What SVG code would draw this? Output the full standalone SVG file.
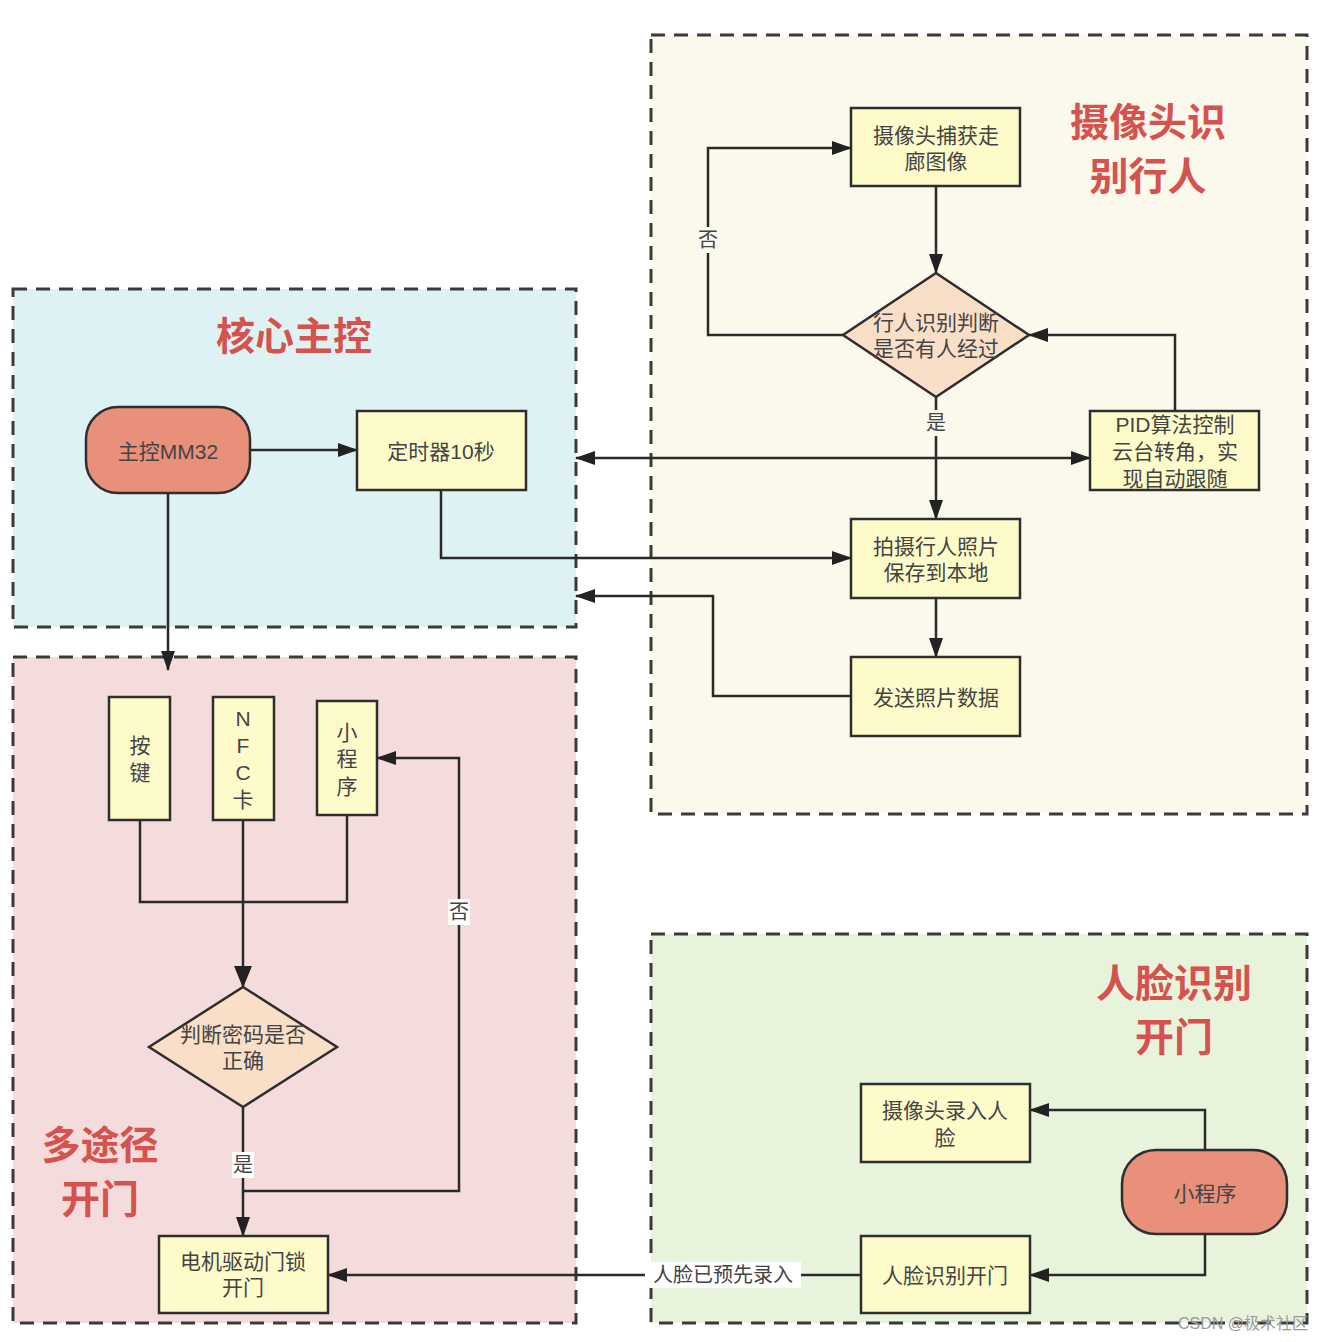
<svg xmlns="http://www.w3.org/2000/svg" width="1324" height="1342" viewBox="0 0 1324 1342">
<defs>
<marker id="ah" viewBox="0 0 20 14" refX="19" refY="7" markerWidth="20" markerHeight="14" markerUnits="userSpaceOnUse" orient="auto-start-reverse">
<path d="M0,0 L20,7 L0,14 z" fill="#222"/>
</marker>
<marker id="ahb" viewBox="0 0 22 18" refX="21" refY="9" markerWidth="22" markerHeight="18" markerUnits="userSpaceOnUse" orient="auto-start-reverse">
<path d="M0,0 L22,9 L0,18 z" fill="#222"/>
</marker>
<style>
.zone{stroke:#3a3a3a;stroke-width:3;stroke-dasharray:14 9}
.box{fill:#fdfbca;stroke:#2e2e2e;stroke-width:2.5}
.dia{fill:#f9dfc8;stroke:#2e2e2e;stroke-width:2.5}
.term{fill:#e8907a;stroke:#2e2e2e;stroke-width:2.5}
.t{font-family:"Liberation Sans","Noto Sans CJK SC",sans-serif;font-size:21px;fill:#444;text-anchor:middle;dominant-baseline:central}
.title{font-family:"Noto Sans CJK SC","Liberation Sans",sans-serif;font-size:39px;font-weight:bold;fill:#d6524e;text-anchor:middle}
.lbl{font-family:"Liberation Sans","Noto Sans CJK SC",sans-serif;font-size:20px;fill:#444;text-anchor:middle;dominant-baseline:central}
.c{fill:none;stroke:#2a2a2a;stroke-width:2.5}
</style>
</defs>
<rect width="1324" height="1342" fill="#ffffff"/>
<g id="zones">
<rect id="zone-camera" class="zone" x="651" y="35" width="656" height="779" fill="#fbf8ec"/>
<rect id="zone-core" class="zone" x="13" y="289" width="563" height="338" fill="#dff2f3"/>
<rect id="zone-multi" class="zone" x="13" y="657" width="563" height="666" fill="#f5dcdc"/>
<rect id="zone-face" class="zone" x="651" y="934" width="656" height="389" fill="#e8f3dc"/>
<text class="title" x="1148" y="136"><tspan x="1148">摄像头识</tspan><tspan x="1148" dy="54">别行人</tspan></text>
<text class="title" x="294" y="350" font-size="41">核心主控</text>
<text class="title" x="100" y="1159"><tspan x="100">多途径</tspan><tspan x="100" dy="54">开门</tspan></text>
<text class="title" x="1174" y="997"><tspan x="1174">人脸识别</tspan><tspan x="1174" dy="54">开门</tspan></text>
</g>
<g id="connectors">
<path class="c" d="M250,450 H357" marker-end="url(#ah)"/>
<path class="c" d="M168,493 V670" marker-end="url(#ah)"/>
<path class="c" d="M576,458 H1090" marker-start="url(#ah)" marker-end="url(#ah)"/>
<path class="c" d="M441,490 V558 H851" marker-end="url(#ah)"/>
<path class="c" d="M851,696 H713 V596 H576" marker-end="url(#ah)"/>
<path class="c" d="M936,186 V273" marker-end="url(#ah)"/>
<path class="c" d="M843,335 H708 V148 H851" marker-end="url(#ah)"/>
<path class="c" d="M936,397 V519" marker-end="url(#ah)"/>
<path class="c" d="M1175,411 V335 H1029" marker-end="url(#ah)"/>
<path class="c" d="M936,598 V657" marker-end="url(#ah)"/>
<path class="c" d="M140,820 V902 H347 V815"/>
<path class="c" d="M243,820 V902"/>
<path class="c" d="M243,902 V987" stroke-width="4" marker-end="url(#ahb)"/>
<path class="c" d="M243,1107 V1236" marker-end="url(#ah)"/>
<path class="c" d="M243,1191 H459 V758 H377" marker-end="url(#ah)"/>
<path class="c" d="M861,1275 H328" marker-end="url(#ah)"/>
<path class="c" d="M1205,1150 V1110 H1030" marker-end="url(#ah)"/>
<path class="c" d="M1205,1234 V1275 H1030" marker-end="url(#ah)"/>
<rect x="697" y="227" width="22" height="26" fill="#fbf8ec"/>
<text class="lbl" x="708" y="240">否</text>
<rect x="925" y="410" width="22" height="26" fill="#fbf8ec"/>
<text class="lbl" x="936" y="423">是</text>
<rect x="448" y="899" width="22" height="26" fill="#ffffff"/>
<text class="lbl" x="459" y="912">否</text>
<rect x="232" y="1152" width="22" height="26" fill="#ffffff"/>
<text class="lbl" x="243" y="1165">是</text>
<rect x="645" y="1262" width="156" height="26" fill="#ffffff"/>
<text class="lbl" x="723" y="1275">人脸已预先录入</text>
</g>
<g id="node-capture">
<rect class="box" x="851" y="108" width="169" height="78"/>
<text class="t" x="936" y="135">摄像头捕获走</text>
<text class="t" x="936" y="161">廊图像</text>
</g>
<g id="node-detect">
<polygon class="dia" points="936,273 1029,335 936,397 843,335"/>
<text class="t" x="936" y="322">行人识别判断</text>
<text class="t" x="936" y="348">是否有人经过</text>
</g>
<g id="node-pid">
<rect class="box" x="1090" y="411" width="169" height="79"/>
<text class="t" x="1175" y="424">PID算法控制</text>
<text class="t" x="1175" y="451">云台转角，实</text>
<text class="t" x="1175" y="478">现自动跟随</text>
</g>
<g id="node-photo">
<rect class="box" x="851" y="519" width="169" height="79"/>
<text class="t" x="936" y="546">拍摄行人照片</text>
<text class="t" x="936" y="572">保存到本地</text>
</g>
<g id="node-send">
<rect class="box" x="851" y="657" width="169" height="79"/>
<text class="t" x="936" y="697">发送照片数据</text>
</g>
<g id="node-mcu">
<rect class="term" x="86" y="407" width="164" height="86" rx="32" ry="32"/>
<text class="t" x="168" y="451">主控MM32</text>
</g>
<g id="node-timer">
<rect class="box" x="357" y="411" width="169" height="79"/>
<text class="t" x="441" y="451">定时器10秒</text>
</g>
<g id="node-key">
<rect class="box" x="109" y="697" width="61" height="123"/>
<text class="t" x="140" y="745">按</text>
<text class="t" x="140" y="772">键</text>
</g>
<g id="node-nfc">
<rect class="box" x="213" y="697" width="61" height="123"/>
<text class="t" x="243" y="718">N</text>
<text class="t" x="243" y="745">F</text>
<text class="t" x="243" y="772">C</text>
<text class="t" x="243" y="799">卡</text>
</g>
<g id="node-app-v">
<rect class="box" x="317" y="701" width="60" height="114"/>
<text class="t" x="347" y="732">小</text>
<text class="t" x="347" y="758">程</text>
<text class="t" x="347" y="786">序</text>
</g>
<g id="node-pwd">
<polygon class="dia" points="243,987 337,1047 243,1107 149,1047"/>
<text class="t" x="243" y="1034">判断密码是否</text>
<text class="t" x="243" y="1060">正确</text>
</g>
<g id="node-motor">
<rect class="box" x="159" y="1236" width="169" height="77"/>
<text class="t" x="243" y="1261">电机驱动门锁</text>
<text class="t" x="243" y="1287">开门</text>
</g>
<g id="node-enroll">
<rect class="box" x="861" y="1084" width="169" height="78"/>
<text class="t" x="945" y="1110">摄像头录入人</text>
<text class="t" x="945" y="1137">脸</text>
</g>
<g id="node-app">
<rect class="term" x="1122" y="1150" width="165" height="84" rx="34" ry="34"/>
<text class="t" x="1205" y="1193">小程序</text>
</g>
<g id="node-faceopen">
<rect class="box" x="861" y="1236" width="169" height="77"/>
<text class="t" x="945" y="1275">人脸识别开门</text>
</g>
<text x="1308" y="1323" font-family="Liberation Sans,Noto Sans CJK SC,sans-serif" font-size="16" fill="#9a9a9a" text-anchor="end" dominant-baseline="central">CSDN @极术社区</text>
</svg>
